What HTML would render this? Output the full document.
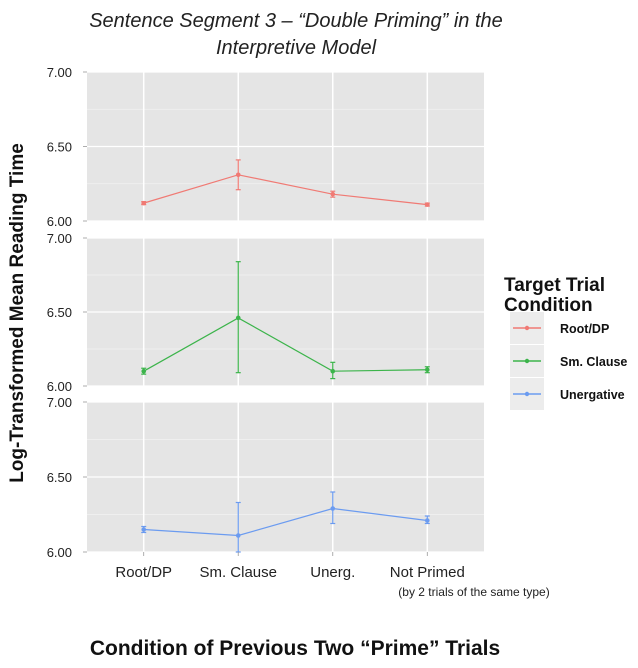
<!DOCTYPE html>
<html><head><meta charset="utf-8"><style>
body{margin:0;background:#fff;width:638px;height:663px;overflow:hidden;font-family:"Liberation Sans",sans-serif}
</style></head><body>
<svg id="chart" width="638" height="663" xmlns="http://www.w3.org/2000/svg" font-family="Liberation Sans, sans-serif">
<text x="296" y="27" text-anchor="middle" font-size="20" font-style="italic" fill="#222">Sentence Segment 3 – “Double Priming” in the</text>
<text x="296" y="54" text-anchor="middle" font-size="20" font-style="italic" fill="#222">Interpretive Model</text>
<text transform="translate(23,313) rotate(-90)" text-anchor="middle" font-size="19" font-weight="bold" fill="#111">Log-Transformed Mean Reading Time</text>
<text x="295" y="655" text-anchor="middle" font-size="21" font-weight="bold" fill="#111">Condition of Previous Two “Prime” Trials</text>
<text x="504" y="291" font-size="19" font-weight="bold" fill="#111">Target Trial</text>
<text x="504" y="311" font-size="19" font-weight="bold" fill="#111">Condition</text>
<g id="plots"></g>
<g id="legend"></g>
</svg>
<script>
const categories = ["Root/DP","Sm. Clause","Unerg.","Not Primed"];
const seriesNames = ["Root/DP","Sm. Clause","Unergative"];
const rootMeans = [6.12, 6.31, 6.18, 6.11];
const rootLow = [6.11, 6.21, 6.16, 6.10];
const rootHigh = [6.13, 6.41, 6.20, 6.12];
const smMeans = [6.10, 6.46, 6.10, 6.11];
const smLow = [6.08, 6.09, 6.05, 6.09];
const smHigh = [6.12, 6.84, 6.16, 6.13];
const unMeans = [6.15, 6.11, 6.29, 6.21];
const unLow = [6.13, 6.00, 6.19, 6.19];
const unHigh = [6.17, 6.33, 6.40, 6.24];
const yTicks = [6.00, 6.50, 7.00];
const yMinorTicks = [6.25, 6.75];

const NS="http://www.w3.org/2000/svg";
const colors=["#f07a74","#3cb44b","#6b9bf0"];
const series=[[rootMeans,rootLow,rootHigh],[smMeans,smLow,smHigh],[unMeans,unLow,unHigh]];
const panels=[[72,221],[238,386],[402,552]];
const X0=87,X1=484;
function xs(i){return X0+(i+1-0.4)*(X1-X0)/4.2;}
function mk(tag,attrs,parent){const e=document.createElementNS(NS,tag);for(const k in attrs)e.setAttribute(k,attrs[k]);parent.appendChild(e);return e;}
const plots=document.getElementById('plots');
series.forEach((s,p)=>{
  const [t,b]=panels[p];
  const ys=v=>b-(v-6)*(b-t)/1;
  const g=mk('g',{},plots);
  
  
  const bg=mk('rect',{x:X0,y:t,width:X1-X0,height:b-t,fill:'#e5e5e5'},g);
  
  
  yMinorTicks.forEach(v=>{mk('line',{x1:X0,x2:X1,y1:ys(v),y2:ys(v),stroke:'#f2f2f2','stroke-width':0.8},g);});
  yTicks.forEach(v=>{
    mk('line',{x1:X0,x2:X1,y1:ys(v),y2:ys(v),stroke:'#fff','stroke-width':1.2},g);
    mk('line',{x1:X0-4,x2:X0,y1:ys(v),y2:ys(v),stroke:'#999','stroke-width':0.8},g);
    const tx=mk('text',{x:X0-15,y:ys(v)+5,'text-anchor':'end','font-size':13,fill:'#222'},g);
    tx.textContent=v.toFixed(2);
    
    
  });
  categories.forEach((c,i)=>{mk('line',{x1:xs(i),x2:xs(i),y1:t,y2:b,stroke:'#fff','stroke-width':1.5},g);});
  const [m,lo,hi]=s;
  const pts=m.map((v,i)=>xs(i)+','+ys(v)).join(' ');
  const ln=mk('polyline',{points:pts,fill:'none',stroke:colors[p],'stroke-width':1.2},g);
  
  
  m.forEach((v,i)=>{
    const x=xs(i);
    mk('line',{x1:x,x2:x,y1:ys(lo[i]),y2:ys(hi[i]),stroke:colors[p],'stroke-width':1.2},g);
    mk('line',{x1:x-2.5,x2:x+2.5,y1:ys(lo[i]),y2:ys(lo[i]),stroke:colors[p],'stroke-width':1.2},g);
    mk('line',{x1:x-2.5,x2:x+2.5,y1:ys(hi[i]),y2:ys(hi[i]),stroke:colors[p],'stroke-width':1.2},g);
    const pt=mk('circle',{cx:x,cy:ys(v),r:2.3,fill:colors[p]},g);
    
    
  });
  if(p===2){
    categories.forEach((c,i)=>{
      mk('line',{x1:xs(i),x2:xs(i),y1:b,y2:b+4,stroke:'#999','stroke-width':0.8},g);
      const tx=mk('text',{x:xs(i),y:b+25,'text-anchor':'middle','font-size':15,fill:'#222'},g);
      tx.textContent=c;
      
      
    });
    const sub=mk('text',{x:474,y:b+44,'text-anchor':'middle','font-size':12,fill:'#222'},g);
    sub.textContent='(by 2 trials of the same  type)';
    
    
  }
});
const leg=document.getElementById('legend');
seriesNames.forEach((n,i)=>{
  const y=312+i*33;
  const g=mk('g',{},leg);
  
  
  mk('rect',{x:510,y:y,width:34,height:32,fill:'#ececec'},g);
  mk('line',{x1:513,x2:541,y1:y+16,y2:y+16,stroke:colors[i],'stroke-width':1.5},g);
  mk('circle',{cx:527,cy:y+16,r:2.2,fill:colors[i]},g);
  const tx=mk('text',{x:560,y:y+21,'font-size':12.5,'font-weight':'bold',fill:'#111'},g);
  tx.textContent=n;
});
</script>
</body></html>
